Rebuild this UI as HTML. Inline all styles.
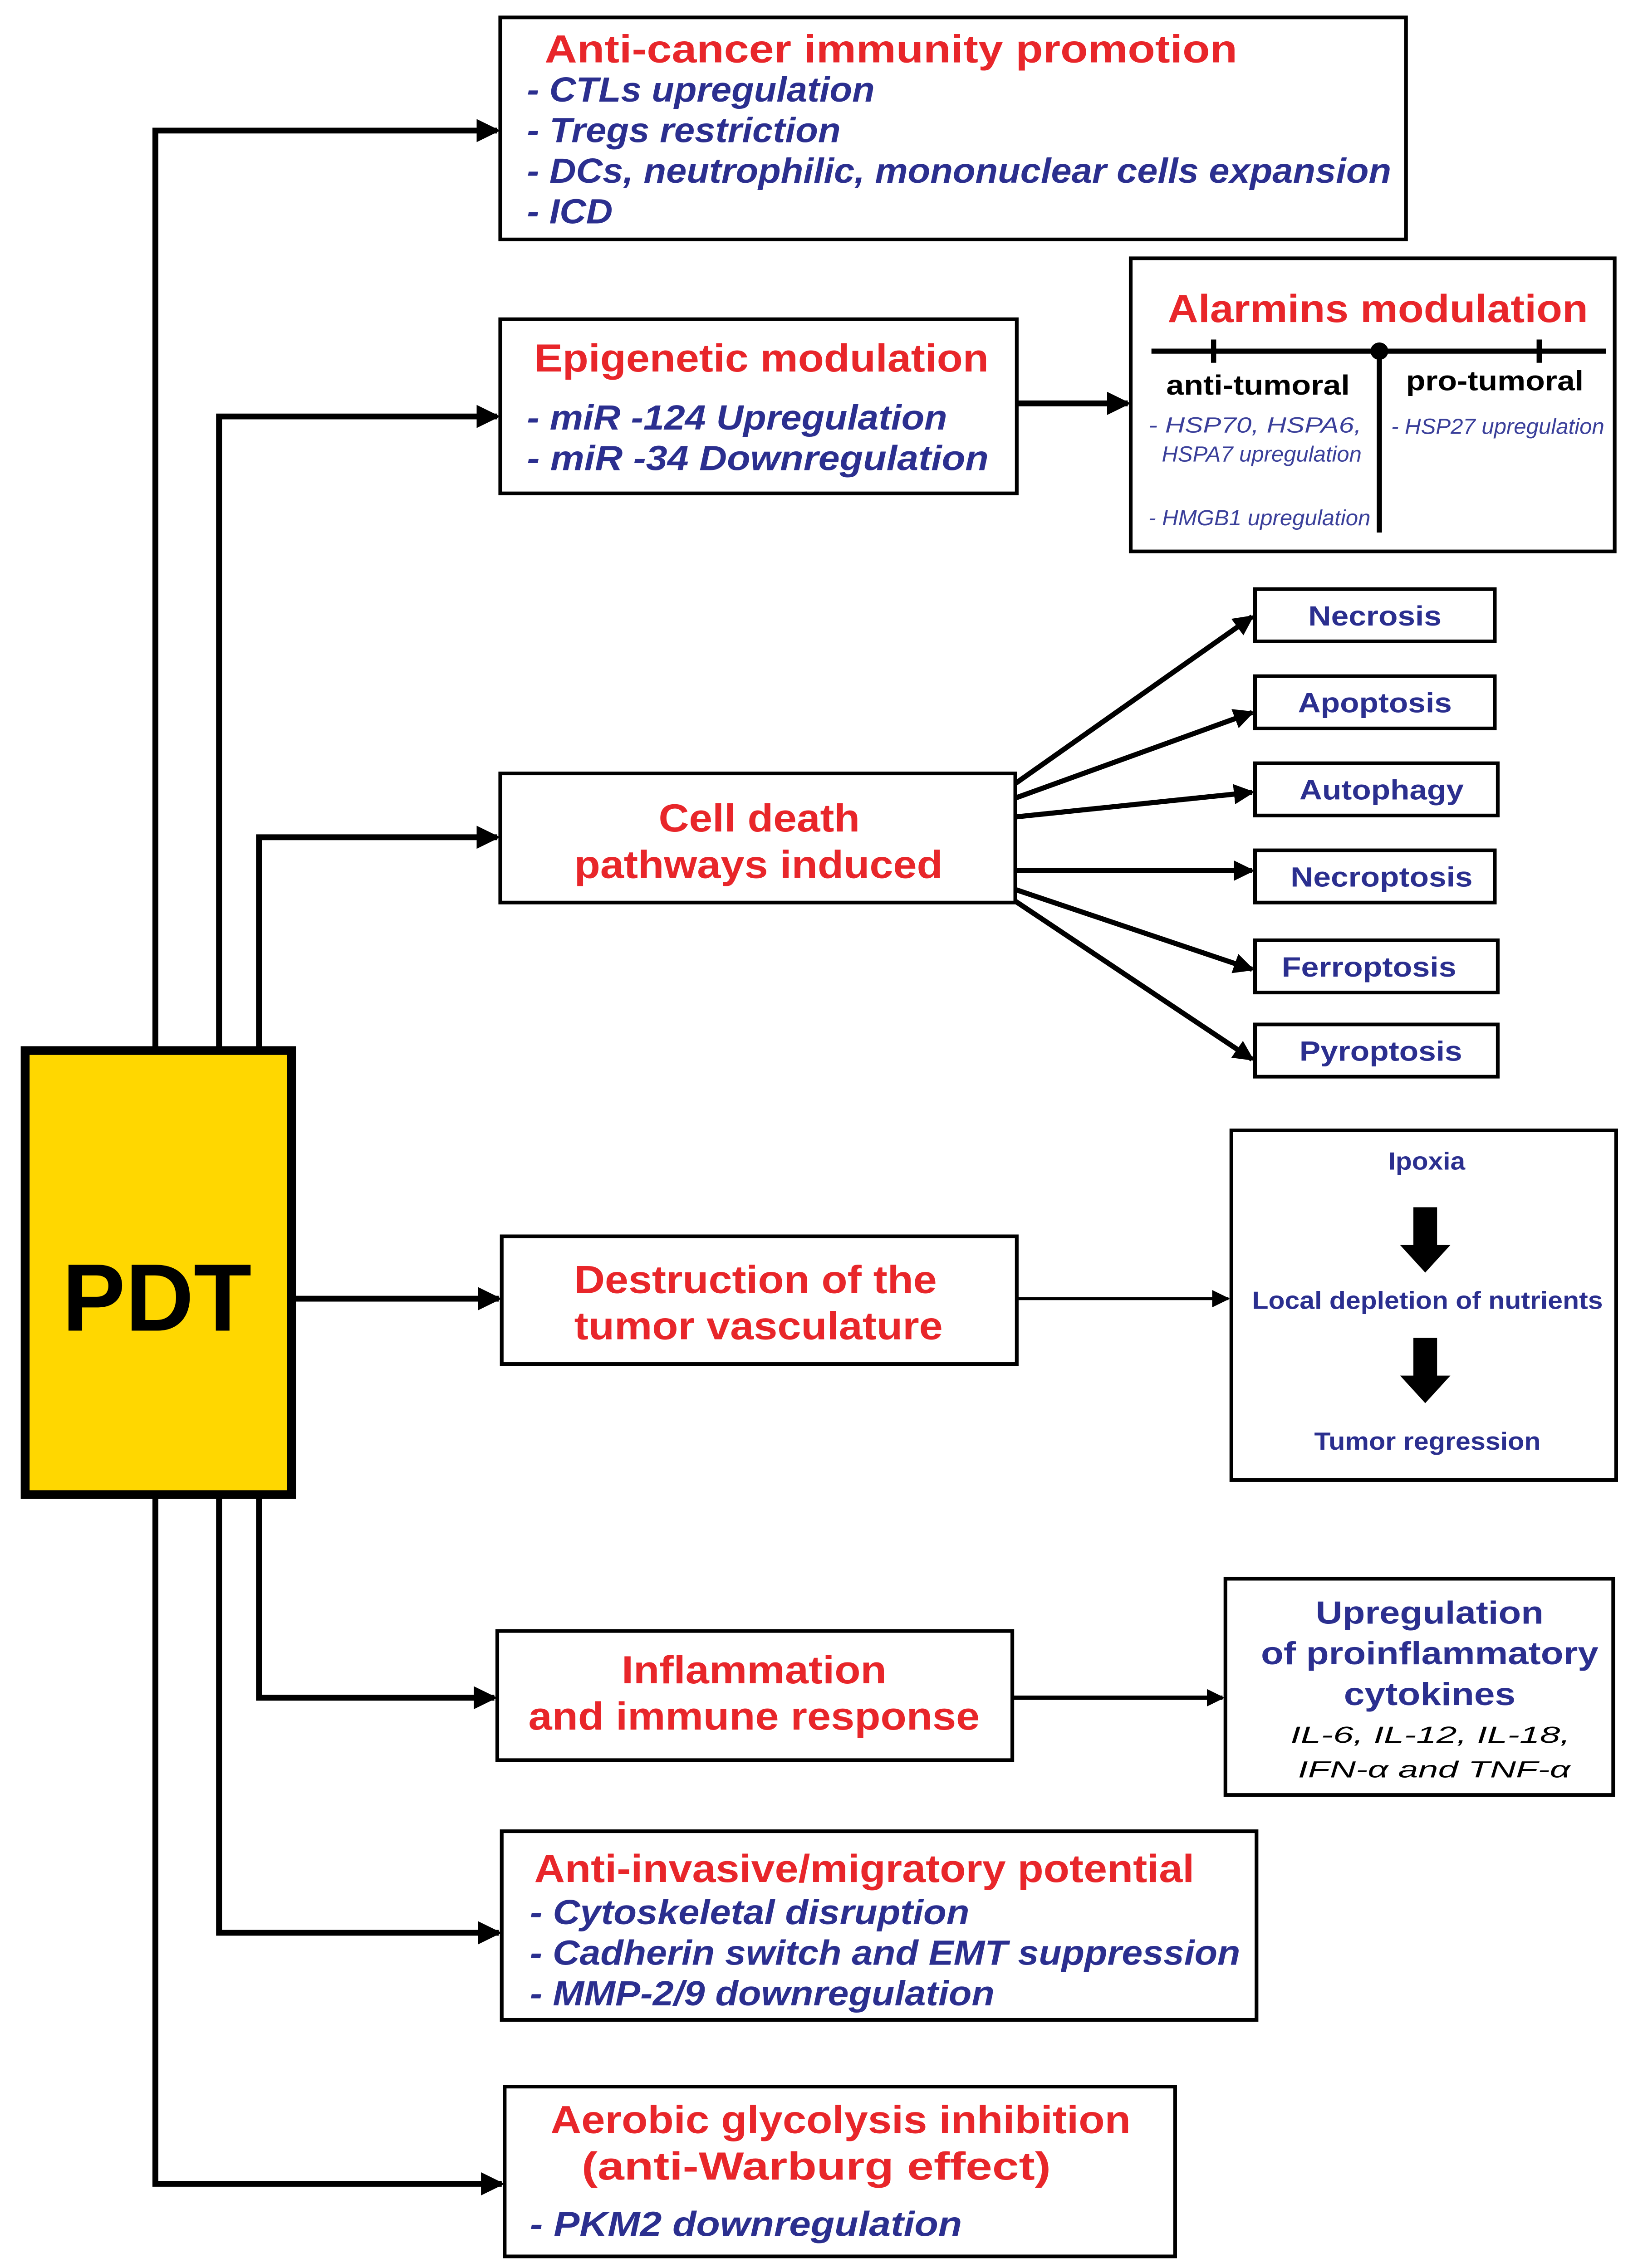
<!DOCTYPE html>
<html><head><meta charset="utf-8"><style>
html,body{margin:0;padding:0;background:#fff;width:100%;height:100%;overflow:hidden}
svg{position:absolute;left:0;top:0;display:block;width:100vw;height:100vh}
text{font-family:"Liberation Sans",sans-serif}
.r{fill:#e8262a;font-weight:bold;font-size:27px}
.b{fill:#2b2f8f;font-weight:bold;font-style:italic;font-size:24px}
.s{fill:#2b2f8f;font-weight:bold;font-size:19px}
.t{fill:#3a3f9a;font-style:italic;font-size:15px}
.k{fill:#000;font-weight:bold;font-size:19px}
.box{fill:#fff;stroke:#000;stroke-width:2.5}
.ln{fill:none;stroke:#000;stroke-width:4}
.th{fill:none;stroke:#000;stroke-width:2}
</style></head><body>
<svg xmlns="http://www.w3.org/2000/svg" viewBox="0 0 1100 1563" preserveAspectRatio="none">
<defs>
<marker id="a" markerWidth="4" markerHeight="4" refX="3.5" refY="2" orient="auto" markerUnits="strokeWidth"><path d="M0,0 L4,2 L0,4 z" fill="#000"/></marker>
<marker id="a2" markerWidth="6" markerHeight="6" refX="5.5" refY="3" orient="auto" markerUnits="strokeWidth"><path d="M0,0 L6,3 L0,6 z" fill="#000"/></marker>
</defs>
<rect width="1100" height="1563" fill="#fff"/>
<path class="ln" d="M105,722 V90 H336" marker-end="url(#a)"/>
<path class="ln" d="M148,722 V287 H336" marker-end="url(#a)"/>
<path class="ln" d="M175,722 V577 H336" marker-end="url(#a)"/>
<path class="ln" d="M198,895 H337" marker-end="url(#a)"/>
<path class="ln" d="M175,1032 V1170 H334" marker-end="url(#a)"/>
<path class="ln" d="M148,1032 V1332 H337" marker-end="url(#a)"/>
<path class="ln" d="M105,1032 V1505 H339" marker-end="url(#a)"/>
<path class="ln" d="M687,278 H762" marker-end="url(#a)"/>
<path class="th" d="M687,895 H830" marker-end="url(#a2)"/>
<path class="ln" style="stroke-width:3" d="M684,1170 H826" marker-end="url(#a)"/>
<g class="ln" style="stroke-width:3.5">
<path d="M686,540 L846,425" marker-end="url(#a)"/>
<path d="M686,550 L846,491" marker-end="url(#a)"/>
<path d="M686,563 L846,546" marker-end="url(#a)"/>
<path d="M686,600 L846,600" marker-end="url(#a)"/>
<path d="M686,613 L846,668" marker-end="url(#a)"/>
<path d="M686,621 L846,730" marker-end="url(#a)"/>
</g>
<rect x="17" y="724" width="180" height="306" fill="#ffd700" stroke="#000" stroke-width="6"/>
<text x="42" y="917" textLength="128" lengthAdjust="spacingAndGlyphs" style="font-weight:bold;font-size:66px">PDT</text>

<rect class="box" x="338" y="12" width="612" height="153"/>
<text class="r" x="368" y="43" textLength="468" lengthAdjust="spacingAndGlyphs">Anti-cancer immunity promotion</text>
<text class="b" x="356" y="70" textLength="235" lengthAdjust="spacingAndGlyphs">- CTLs upregulation</text>
<text class="b" x="356" y="98" textLength="212" lengthAdjust="spacingAndGlyphs">- Tregs restriction</text>
<text class="b" x="356" y="126" textLength="584" lengthAdjust="spacingAndGlyphs">- DCs, neutrophilic, mononuclear cells expansion</text>
<text class="b" x="356" y="154" textLength="58" lengthAdjust="spacingAndGlyphs">- ICD</text>

<rect class="box" x="338" y="220" width="349" height="120"/>
<text class="r" x="361" y="256" textLength="307" lengthAdjust="spacingAndGlyphs">Epigenetic modulation</text>
<text class="b" x="356" y="296" textLength="284" lengthAdjust="spacingAndGlyphs">- miR -124 Upregulation</text>
<text class="b" x="356" y="324" textLength="312" lengthAdjust="spacingAndGlyphs">- miR -34  Downregulation</text>

<rect class="box" x="764" y="178" width="327" height="202"/>
<text class="r" x="789" y="222" textLength="284" lengthAdjust="spacingAndGlyphs">Alarmins modulation</text>
<path d="M778,242 H1085 M932,242 V367 M820,234 V250 M1040,234 V250" stroke="#000" stroke-width="3.5" fill="none"/>
<circle cx="932" cy="242" r="6" fill="#000"/>
<text class="k" x="788" y="272" textLength="124" lengthAdjust="spacingAndGlyphs">anti-tumoral</text>
<text class="k" x="950" y="269" textLength="120" lengthAdjust="spacingAndGlyphs">pro-tumoral</text>
<text class="t" x="776" y="298" textLength="144" lengthAdjust="spacingAndGlyphs">- HSP70, HSPA6,</text>
<text class="t" x="785" y="318" textLength="135" lengthAdjust="spacingAndGlyphs">HSPA7 upregulation</text>
<text class="t" x="776" y="362" textLength="150" lengthAdjust="spacingAndGlyphs">- HMGB1 upregulation</text>
<text class="t" x="940" y="299" textLength="144" lengthAdjust="spacingAndGlyphs">- HSP27 upregulation</text>

<rect class="box" x="338" y="533" width="348" height="89"/>
<text class="r" x="445" y="573" textLength="136" lengthAdjust="spacingAndGlyphs">Cell death</text>
<text class="r" x="388" y="605" textLength="249" lengthAdjust="spacingAndGlyphs">pathways induced</text>
<rect class="box" x="848" y="406" width="162" height="36"/><text class="s" x="884" y="431" textLength="90" lengthAdjust="spacingAndGlyphs">Necrosis</text>
<rect class="box" x="848" y="466" width="162" height="36"/><text class="s" x="877" y="491" textLength="104" lengthAdjust="spacingAndGlyphs">Apoptosis</text>
<rect class="box" x="848" y="526" width="164" height="36"/><text class="s" x="878" y="551" textLength="111" lengthAdjust="spacingAndGlyphs">Autophagy</text>
<rect class="box" x="848" y="586" width="162" height="36"/><text class="s" x="872" y="611" textLength="123" lengthAdjust="spacingAndGlyphs">Necroptosis</text>
<rect class="box" x="848" y="648" width="164" height="36"/><text class="s" x="866" y="673" textLength="118" lengthAdjust="spacingAndGlyphs">Ferroptosis</text>
<rect class="box" x="848" y="706" width="164" height="36"/><text class="s" x="878" y="731" textLength="110" lengthAdjust="spacingAndGlyphs">Pyroptosis</text>

<rect class="box" x="339" y="852" width="348" height="88"/>
<text class="r" x="388" y="891" textLength="245" lengthAdjust="spacingAndGlyphs">Destruction of the</text>
<text class="r" x="388" y="923" textLength="249" lengthAdjust="spacingAndGlyphs">tumor vasculature</text>
<rect class="box" x="832" y="779" width="260" height="241"/>
<text class="s" x="938" y="806" textLength="52" lengthAdjust="spacingAndGlyphs" style="font-size:17px">Ipoxia</text>
<path d="M955,832 H971 V858 H980 L963,877 L946,858 H955 Z" fill="#000"/>
<text class="s" x="846" y="902" textLength="237" lengthAdjust="spacingAndGlyphs" style="font-size:17px">Local depletion of nutrients</text>
<path d="M955,922 H971 V948 H980 L963,967 L946,948 H955 Z" fill="#000"/>
<text class="s" x="888" y="999" textLength="153" lengthAdjust="spacingAndGlyphs" style="font-size:17px">Tumor regression</text>

<rect class="box" x="336" y="1124" width="348" height="89"/>
<text class="r" x="420" y="1160" textLength="179" lengthAdjust="spacingAndGlyphs">Inflammation</text>
<text class="r" x="357" y="1192" textLength="305" lengthAdjust="spacingAndGlyphs">and immune response</text>
<rect class="box" x="828" y="1088" width="262" height="149"/>
<text class="s" x="889" y="1119" textLength="154" lengthAdjust="spacingAndGlyphs" style="font-size:22px">Upregulation</text>
<text class="s" x="852" y="1147" textLength="228" lengthAdjust="spacingAndGlyphs" style="font-size:22px">of proinflammatory</text>
<text class="s" x="908" y="1175" textLength="116" lengthAdjust="spacingAndGlyphs" style="font-size:22px">cytokines</text>
<text x="872" y="1201" textLength="189" lengthAdjust="spacingAndGlyphs" style="font-style:italic;font-size:16px">IL-6, IL-12, IL-18,</text>
<text x="877" y="1225" textLength="184" lengthAdjust="spacingAndGlyphs" style="font-style:italic;font-size:16px">IFN-α and TNF-α</text>

<rect class="box" x="339" y="1262" width="510" height="130"/>
<text class="r" x="361" y="1297" textLength="446" lengthAdjust="spacingAndGlyphs">Anti-invasive/migratory potential</text>
<text class="b" x="358" y="1326" textLength="297" lengthAdjust="spacingAndGlyphs">- Cytoskeletal disruption</text>
<text class="b" x="358" y="1354" textLength="480" lengthAdjust="spacingAndGlyphs">- Cadherin switch and EMT suppression</text>
<text class="b" x="358" y="1382" textLength="314" lengthAdjust="spacingAndGlyphs">- MMP-2/9 downregulation</text>

<rect class="box" x="341" y="1438" width="453" height="117"/>
<text class="r" x="372" y="1470" textLength="392" lengthAdjust="spacingAndGlyphs">Aerobic glycolysis inhibition</text>
<text class="r" x="393" y="1502" textLength="317" lengthAdjust="spacingAndGlyphs">(anti-Warburg effect)</text>
<text class="b" x="358" y="1541" textLength="292" lengthAdjust="spacingAndGlyphs">- PKM2 downregulation</text>
</svg>
</body></html>
